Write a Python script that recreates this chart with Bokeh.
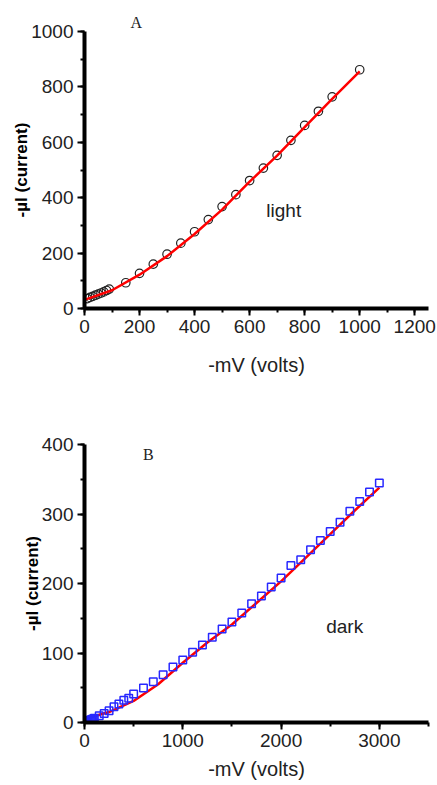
from bokeh.plotting import figure
from bokeh.models import Range1d, SingleIntervalTicker, Label, ColumnDataSource
from bokeh.layouts import column
from bokeh.embed import file_html
from bokeh.resources import INLINE

# ---- Panel A (light) ----
light_mv = [10, 20, 30, 40, 50, 60, 70, 80, 90, 150, 200, 250, 300, 350, 400, 450,
            500, 550, 600, 650, 700, 750, 800, 850, 900, 1000]
light_ua = [36, 40, 44, 48, 52, 56, 60, 65, 70, 93, 127, 160, 196, 236, 277, 321,
            368, 411, 462, 507, 553, 607, 661, 712, 764, 862]
fit_light_mv = [5, 100, 200, 300, 400, 500, 600, 700, 800, 900, 1000]
fit_light_ua = [33, 66, 122, 189, 269, 357, 458, 552, 655, 757, 856]

# ---- Panel B (dark) ----
dark_mv = [10, 20, 30, 40, 50, 60, 70, 80, 90, 100, 150, 200, 250, 300, 350, 400, 450, 500,
           600, 700, 800, 900, 1000, 1100, 1200, 1300, 1400, 1500, 1600, 1700, 1800, 1900,
           2000, 2100, 2200, 2300, 2400, 2500, 2600, 2700, 2800, 2900, 3000]
dark_ua = [1, 1.5, 2, 2.5, 3, 3.5, 4, 4.5, 5, 6, 9.7, 13, 17, 22.6, 26.5, 32, 35, 41,
           49.6, 58.7, 68.8, 80, 90, 101, 111.6, 122.6, 134.6, 144.5, 157.5, 171, 182, 195,
           208, 226, 234, 248.6, 262, 275, 288, 304, 318, 331.7, 344.6]
fit_dark_mv = [0, 250, 500, 750, 1000, 1250, 1500, 1750, 2000, 2250, 2500, 2750, 3000]
fit_dark_ua = [5, 15, 31, 55, 86, 115, 141, 172, 203, 237, 271, 305, 338]

xlabel = "-mV (volts)"
ylabel = "-\u00b5I (current)"

TICK_FONT = "19px"
TICK_COLOR = "#222222"


def style(p, xint, yint):
    p.grid.visible = False
    p.outline_line_color = None
    p.background_fill_color = "white"
    p.border_fill_color = "white"
    for ax in (p.xaxis[0], p.yaxis[0]):
        ax.axis_line_width = 4
        ax.axis_line_color = "black"
        ax.major_tick_line_width = 2
        ax.minor_tick_line_width = 2
        ax.major_tick_line_color = "black"
        ax.minor_tick_line_color = "black"
        ax.major_tick_in = 0
        ax.major_tick_out = 7
        ax.minor_tick_in = 0
        ax.minor_tick_out = 4
        ax.major_label_text_font = "Liberation Sans"
        ax.major_label_text_font_size = TICK_FONT
        ax.major_label_text_color = TICK_COLOR
        ax.major_label_standoff = 4
    p.xaxis[0].ticker = SingleIntervalTicker(interval=xint, num_minor_ticks=2)
    p.yaxis[0].ticker = SingleIntervalTicker(interval=yint, num_minor_ticks=2)
    p.xaxis[0].axis_label = xlabel
    p.xaxis[0].axis_label_text_font = "Liberation Sans"
    p.xaxis[0].axis_label_text_font_style = "normal"
    p.xaxis[0].axis_label_text_font_size = "20px"
    p.xaxis[0].axis_label_text_color = TICK_COLOR
    p.yaxis[0].axis_label = ylabel
    p.yaxis[0].axis_label_text_font = "Liberation Sans"
    p.yaxis[0].axis_label_text_font_style = "bold"
    p.yaxis[0].axis_label_text_font_size = "17px"
    p.yaxis[0].axis_label_text_color = "black"
    p.yaxis[0].axis_label_standoff = -3


pA = figure(width=437, height=395, output_backend="svg", toolbar_location=None,
            x_range=Range1d(0, 1250), y_range=Range1d(0, 1000),
            min_border_left=84, min_border_right=9, min_border_top=31, min_border_bottom=87)
style(pA, 200, 200)
pA.title.text = "A"
pA.title.align = "left"
pA.title.offset = 46
pA.title.text_font = "Liberation Serif"
pA.title.text_font_style = "normal"
pA.title.text_font_size = "16px"
pA.title.text_color = "#222222"
pA.title.standoff = 2
pA.xaxis[0].axis_label_standoff = 18
srcA = ColumnDataSource(dict(x=light_mv, y=light_ua))
pA.scatter("x", "y", source=srcA, marker="circle", size=8.5, fill_color=None,
           line_color="#222222", line_width=1.2)
pA.line(fit_light_mv, fit_light_ua, line_color="#ff0000", line_width=2.5)
pA.add_layout(Label(x=724, y=353, text="light", text_font="Liberation Sans",
                    text_font_size="19px", text_align="center", text_baseline="middle",
                    text_color=TICK_COLOR))

pB = figure(width=437, height=390, output_backend="svg", toolbar_location=None,
            x_range=Range1d(0, 3500), y_range=Range1d(0, 400),
            min_border_left=84, min_border_right=9, min_border_top=49, min_border_bottom=63)
style(pB, 1000, 100)
pB.xaxis[0].axis_label_standoff = 8
srcB = ColumnDataSource(dict(x=dark_mv, y=dark_ua))
pB.line(fit_dark_mv, fit_dark_ua, line_color="#ff0000", line_width=2.5)
pB.scatter("x", "y", source=srcB, marker="square", size=7.5, fill_color=None,
           line_color="#2828ff", line_width=1.5)
pB.add_layout(Label(x=649, y=385, text="B", text_font="Liberation Serif",
                    text_font_size="16px", text_align="center", text_baseline="middle",
                    text_color="#222222"))
pB.add_layout(Label(x=2647, y=138, text="dark", text_font="Liberation Sans",
                    text_font_size="19px", text_align="center", text_baseline="middle",
                    text_color=TICK_COLOR))

layout = column(pA, pB, spacing=0)
open("out.html", "w").write(file_html(layout, INLINE))
